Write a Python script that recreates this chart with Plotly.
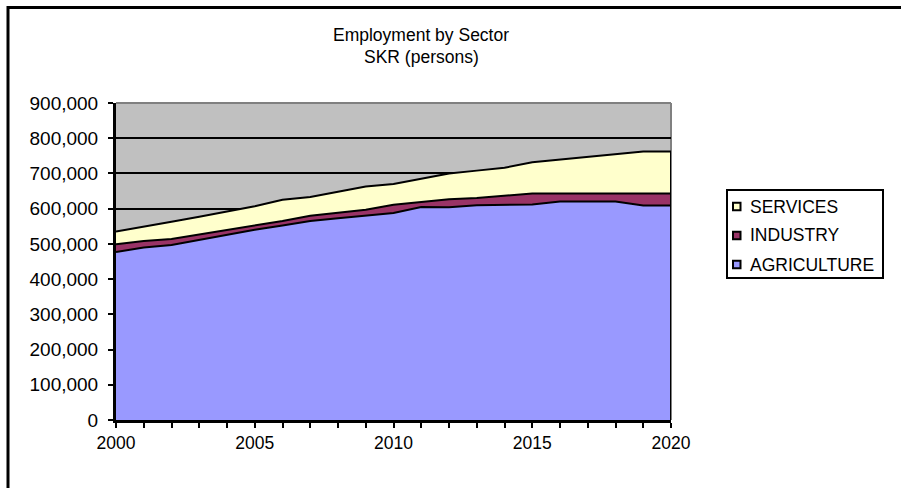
import plotly.graph_objects as go

years = list(range(2000, 2021))
agriculture = [477000, 490000, 497000, 512000, 525000, 540000, 552000, 565000, 573000, 580000,
               588000, 605000, 604000, 610000, 611000, 612000, 620000, 620000, 620000, 609000, 609000]
industry = [22000, 18000, 17000, 15000, 15000, 11000, 13000, 15000, 16000, 17000,
            23000, 15000, 23000, 20000, 26000, 31000, 23000, 23000, 23000, 34000, 34000]
services = [36000, 42000, 49000, 50000, 52000, 56000, 60000, 53000, 59000, 66000,
            59000, 66000, 73000, 78000, 79000, 89000, 97000, 105000, 112000, 119000, 119000]
series_names = ["AGRICULTURE", "INDUSTRY", "SERVICES"]
series_colors = ["#9999FF", "#993366", "#FFFFCC"]
title_lines = ["Employment by Sector", "SKR (persons)"]

FONT = "Liberation Sans Narrow, Arial Narrow, Liberation Sans, Arial, sans-serif"

fig = go.Figure()
for name, vals, col in zip(series_names, [agriculture, industry, services], series_colors):
    fig.add_trace(go.Scatter(
        x=years, y=vals, name=name, mode="lines", stackgroup="one",
        fillcolor=col, line=dict(color="black", width=2), showlegend=False,
    ))

total_last = agriculture[-1] + industry[-1] + services[-1]
fig.add_trace(go.Scatter(x=[years[-1], years[-1]], y=[0, total_last], mode="lines",
                         line=dict(color="black", width=2), showlegend=False, hoverinfo="skip"))

L, R, T, B = 116, 230, 103, 68
W, H = 901, 488
pw, ph = W - L - R, H - T - B

def px_x(p):
    return (p - L) / pw

def px_y(p):
    return (H - B - p) / ph

fig.update_layout(
    width=W, height=H,
    margin=dict(l=L, r=R, t=T, b=B, pad=0, autoexpand=False),
    paper_bgcolor="white", plot_bgcolor="#C0C0C0",
    font=dict(family=FONT, size=17.5, color="black"),
    showlegend=False,
    xaxis=dict(
        range=[2000, 2020], tickmode="linear", tick0=2000, dtick=5,
        showgrid=False, zeroline=False, showline=True, linecolor="black", linewidth=3,
        ticks="outside", ticklen=5, tickwidth=2, tickcolor="black",
        minor=dict(dtick=1, ticks="outside", ticklen=5, tickwidth=2, tickcolor="black", showgrid=False),
        tickfont=dict(size=17.5),
    ),
    yaxis=dict(
        range=[0, 900000], tickmode="linear", tick0=0, dtick=100000, tickformat=",",
        showgrid=True, gridcolor="black", gridwidth=2, zeroline=False,
        showline=True, linecolor="black", linewidth=3,
        ticks="outside", ticklen=5, tickwidth=2, tickcolor="black",
        tickfont=dict(size=19), ticklabelstandoff=6,
    ),
)

# gray top/right border of plot area
fig.add_shape(type="line", xref="paper", yref="paper", x0=0, x1=1, y0=1, y1=1,
              line=dict(color="#808080", width=2), layer="above")
fig.add_shape(type="line", xref="paper", yref="paper", x0=1, x1=1, y0=0, y1=1,
              line=dict(color="#808080", width=2), layer="below")
# outer chart border
fig.add_shape(type="rect", xref="paper", yref="paper",
              x0=px_x(8), x1=px_x(1200), y0=px_y(800), y1=px_y(7.5),
              line=dict(color="black", width=3), fillcolor="rgba(0,0,0,0)", layer="above")

# legend box (drawn manually, Excel style)
fig.add_shape(type="rect", xref="paper", yref="paper",
              x0=px_x(727), x1=px_x(883), y0=px_y(278), y1=px_y(190),
              line=dict(color="black", width=2), fillcolor="white", layer="above")
legend_order = list(reversed(list(zip(series_names, series_colors))))
for i, (name, col) in enumerate(legend_order):
    cy = 206.5 + 29 * i
    fig.add_shape(type="rect", xref="paper", yref="paper",
                  x0=px_x(733), x1=px_x(740.5), y0=px_y(cy + 3.75), y1=px_y(cy - 3.75),
                  line=dict(color="black", width=2), fillcolor=col, layer="above")
    fig.add_annotation(text=name, xref="paper", yref="paper", x=px_x(748), y=px_y(cy),
                       xanchor="left", yanchor="middle", showarrow=False,
                       font=dict(size=17.5, family=FONT))

for i, line in enumerate(title_lines):
    fig.add_annotation(text=line, xref="paper", yref="paper", x=px_x(421), y=px_y(35 + 21.5 * i),
                       xanchor="center", yanchor="middle", showarrow=False,
                       font=dict(size=17.5, family=FONT))

fig.write_html("out.html")
